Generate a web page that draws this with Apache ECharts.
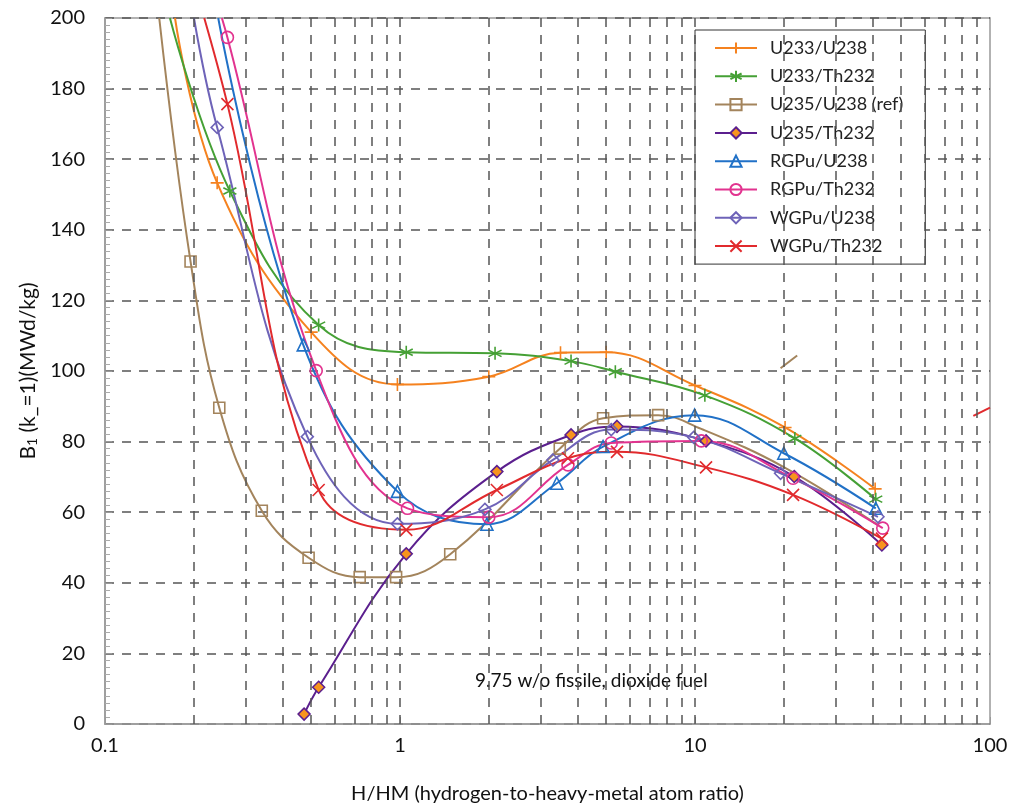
<!DOCTYPE html>
<html><head><meta charset="utf-8">
<script src="https://cdn.jsdelivr.net/npm/echarts@6/dist/echarts.min.js"></script>
<style>html,body{margin:0;padding:0;background:#fff}#c{width:1021px;height:811px}</style>
</head><body><div id="c"></div>
<script>
// ---- data (x = H/HM, y = B1 MWd/kg) ----
const seriesNames = ['U233/U238','U233/Th232','U235/U238 (ref)','U235/Th232','RGPu/U238','RGPu/Th232','WGPu/U238','WGPu/Th232'];
// marked points
const U233_U238  = [[0.24,153.3],[0.5,111],[0.98,96.2],[2.0,98.4],[3.5,105.2],[5.0,105.3],[10,95.9],[20.2,84],[40.8,66.6]];
const U233_Th232 = [[0.265,151],[0.53,113],[1.05,105.3],[2.1,105],[3.8,102.8],[5.37,99.8],[10.8,93.1],[21.8,80.9],[41,63.7]];
const U235_U238  = [[0.195,131],[0.244,89.6],[0.34,60.4],[0.49,47.1],[0.73,41.6],[0.97,41.6],[1.48,48.1],[3.48,78],[4.88,86.6],[7.5,87.5]];
const U235_Th232 = [[0.473,2.8],[0.53,10.4],[1.05,48.2],[2.13,71.5],[3.8,81.9],[5.44,84.3],[10.9,80.2],[21.7,70.1],[43,50.7]];
const RGPu_U238  = [[0.47,107.4],[0.98,65.9],[1.97,56.6],[3.4,68.2],[4.88,78.6],[9.97,87.5],[20,76.7],[41,61.1]];
const RGPu_Th232 = [[0.26,194.5],[0.52,100.1],[1.06,61.1],[2.0,58.6],[3.71,73.4],[5.2,79.6],[10.5,80.2],[21.5,69.6],[43.3,55.5]];
const WGPu_U238  = [[0.24,169],[0.485,81.4],[0.98,56.7],[1.94,60.8],[3.3,74.8],[5.2,83.4],[9.9,81.2],[19.5,71],[41.7,58.7]];
const WGPu_Th232 = [[0.26,175.6],[0.53,66.3],[1.05,55],[2.13,66.3],[3.71,75.3],[5.44,77.1],[10.9,72.7],[21.5,64.9],[43,52.5]];
// unmarked curve points (where curves leave the top of the plot, and unmarked tail)
const topExit = [[0.1727,200],[0.166,200],[0.1527,200],null,[0.242,200],[0.249,200],[0.2002,200],[0.217,200]];
const U235_U238_tail = [[10.5,83.6],[20,72.8],[42,56.2]];
// stray marks visible in the original figure
const strayBrown = [[19.5,100.8],[22.2,104.4]];
const strayRed = [[87.8,87.3],[100,89.6]];
// axis ticks
const yTicks = {min:0, max:200, step:20};
const xRange = {min:0.1, max:100};
const gridX = [0.2,0.3,0.4,0.5,0.6,0.7,0.8,0.9,1,2,3,4,5,6,7,8,9,10,20,30,40,50,60,70,80,90];
const note = '9.75 w/o fissile, dioxide fuel';

const colors = ['#F5821F','#45A035','#A3845C','#5B1F8E','#2171C7','#E2338F','#6E63B8','#E12A2D'];
const PLUS = 'path://M5,0 L5,10 M0,5 L10,5';
const STAR = 'path://M5,0 L5,10 M0.67,2.5 L9.33,7.5 M0.67,7.5 L9.33,2.5';
const CROSS = 'path://M0,0 L10,10 M0,10 L10,0';
const sets = [U233_U238,U233_Th232,U235_U238,U235_Th232,RGPu_U238,RGPu_Th232,WGPu_U238,WGPu_Th232];
const symbols = [PLUS, STAR, 'rect','diamond','triangle','circle','diamond',CROSS];
const sizes = [13,13,11,12,12,12,12,12];
const FONT = 'Lato';

const series = sets.map((pts,i)=>{
  const data = [];
  if (topExit[i]) data.push({value: topExit[i], symbol:'none'});
  pts.forEach(p=>data.push(p));
  if (i===2) U235_U238_tail.forEach(p=>data.push({value:p, symbol:'none'}));
  const c = colors[i];
  const path = typeof symbols[i]==='string' && symbols[i].startsWith('path://');
  let itemStyle;
  if (i===3) itemStyle = {color:'#F7941D', borderColor:c, borderWidth:1.5};
  else if (path) itemStyle = {color:c, borderColor:c, borderWidth:1.6};
  else itemStyle = {color:'rgba(255,255,255,0)', borderColor:c, borderWidth:1.6};
  return {
    name: seriesNames[i], type:'line', data, smooth:0.4, clip:true,
    symbol: symbols[i], symbolSize: sizes[i], showAllSymbol:true,
    lineStyle:{color:c, width:2}, itemStyle, z: 3,
    emphasis:{disabled:true}, animation:false
  };
});
series.push({type:'line', data:strayBrown, symbol:'none', lineStyle:{color:'#A3845C', width:2}, animation:false, z:3});
series.push({type:'line', data:strayRed, symbol:'none', lineStyle:{color:'#E12A2D', width:2}, animation:false, z:3});
series.push({type:'line', data:[], z:1, animation:false,
  markLine:{silent:true, symbol:'none', label:{show:false}, animation:false,
    lineStyle:{color:'#555', type:[9,8], width:1.5},
    data: gridX.map(v=>({xAxis:v}))}});

const chart = echarts.init(document.getElementById('c'), null, {renderer:'canvas'});
chart.setOption({
  backgroundColor:'#fff',
  animation:false,
  textStyle:{fontFamily:FONT},
  grid:{left:105, right:31, top:18, bottom:87, show:true, borderColor:'#999', borderWidth:1.5},
  legend:{
    data: seriesNames, orient:'vertical', left:695, top:30,
    backgroundColor:'#fff', borderColor:'#333', borderWidth:1,
    padding:[9,22,9,19], itemWidth:42, itemHeight:14, itemGap:10.3,
    textStyle:{fontSize:18, lineHeight:18, color:'#222', fontFamily:FONT, padding:[0,0,0,8]},
    selectedMode:false
  },
  xAxis:{
    type:'log', logBase:10, min:xRange.min, max:xRange.max,
    axisLine:{show:true, lineStyle:{color:'#999', width:1.5}},
    axisTick:{show:true, inside:true, length:7, lineStyle:{color:'#999'}},
    splitLine:{show:false},
    axisLabel:{fontSize:20, color:'#111', margin:12, fontFamily:FONT,
      formatter: v => String(+(+v).toPrecision(3))},
    name:'H/HM (hydrogen-to-heavy-metal atom ratio)', nameLocation:'middle', nameGap:60,
    nameTextStyle:{fontSize:20, color:'#111', fontFamily:FONT}
  },
  yAxis:{
    type:'value', min:yTicks.min, max:yTicks.max, interval:yTicks.step,
    axisLine:{show:true, lineStyle:{color:'#999', width:1.5}},
    axisTick:{show:true, inside:true, length:7, lineStyle:{color:'#999'}},
    minorTick:{show:true, splitNumber:10, length:5, lineStyle:{color:'#aaa'}},
    splitLine:{show:true, lineStyle:{color:'#555', type:[9,8], width:1.5}},
    axisLabel:{fontSize:20, color:'#111', margin:20, fontFamily:FONT},
    name:'{a|B}{s|1}{a| (k_=1)(MWd/kg)}', nameLocation:'middle', nameGap:64,
    nameTextStyle:{color:'#111', fontFamily:FONT,
      rich:{a:{fontSize:21, color:'#111', fontFamily:FONT}, s:{fontSize:14, color:'#111', fontFamily:FONT, verticalAlign:'bottom', padding:[8,0,0,0]}}}
  },
  graphic:[{type:'text', left:475, top:671, style:{text:note, fontSize:19, fill:'#111', fontFamily:FONT}}],
  series
});
</script></body></html>
